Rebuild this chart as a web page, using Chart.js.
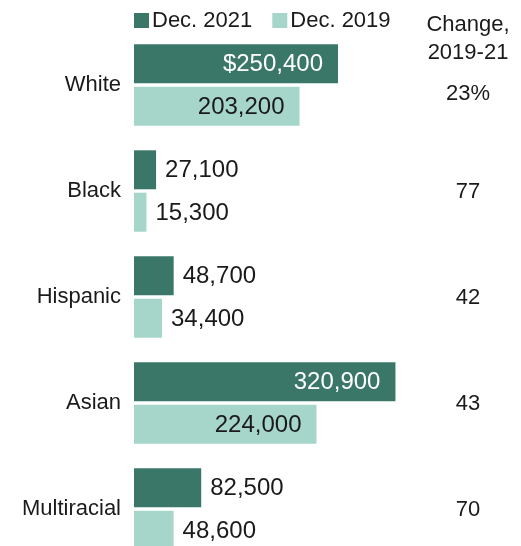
<!DOCTYPE html>
<html>
<head>
<meta charset="utf-8">
<script src="https://cdn.jsdelivr.net/npm/chart.js@4"></script>
<style>
  html, body { margin: 0; padding: 0; background: #fff; }
  /* the plot runs past the bottom edge, the last bar is cut */
  #frame { width: 521px; height: 546px; overflow: hidden; position: relative; }
  #chart { display: block; position: absolute; left: 0; top: 0; }
</style>
</head>
<body>
<div id="frame"><canvas id="chart" width="521" height="566"></canvas></div>
<script>
/* Median wealth by race, two survey dates. */
const groups = ["White", "Black", "Hispanic", "Asian", "Multiracial"]
const dec2021 = [250400, 27100, 48700, 320900, 82500]
const dec2019 = [203200, 15300, 34400, 224000, 48600]
const changePct = ["23%", "77", "42", "43", "70"]
const seriesNames = ["Dec. 2021", "Dec. 2019"]
const changeHeader = ["Change,", "2019-21"]

const darkGreen = "#3a7768"
const lightGreen = "#a6d5ca"
const textColor = "#1a1a1a"
const fontFamily = "'Liberation Sans', Arial, sans-serif"

/* Format a bar value, the very first one gets a dollar sign. */
const formatValue = (value, datasetIndex, index) => {
  const s = value.toLocaleString("en-US")
  return datasetIndex === 0 && index === 0 ? "$" + s : s
}

/* Draws legend, value labels and the change column. */
const extrasPlugin = {
  id: "extras",
  afterDatasetsDraw(chart) {
    const ctx = chart.ctx
    const area = chart.chartArea
    const yScale = chart.scales.y

    ctx.save()

    /* Legend at the top left of the plot. */
    ctx.font = "22px " + fontFamily
    ctx.textBaseline = "middle"
    ctx.textAlign = "left"
    let lx = area.left
    chart.data.datasets.forEach(ds => {
      ctx.fillStyle = ds.backgroundColor
      ctx.fillRect(lx, 13, 15, 15)
      ctx.fillStyle = textColor
      ctx.fillText(ds.label, lx + 18, 21)
      lx += 18 + ctx.measureText(ds.label).width + 20
    })

    /* Value labels, inside long bars and after short ones. */
    ctx.font = "24px " + fontFamily
    chart.data.datasets.forEach((ds, di) => {
      const meta = chart.getDatasetMeta(di)
      meta.data.forEach((bar, i) => {
        const text = formatValue(ds.data[i], di, i)
        const barWidth = bar.x - bar.base
        if (barWidth > 120) {
          ctx.textAlign = "right"
          ctx.fillStyle = di === 0 ? "#ffffff" : textColor
          ctx.fillText(text, bar.x - 15, bar.y + 1)
        } else {
          ctx.textAlign = "left"
          ctx.fillStyle = textColor
          ctx.fillText(text, bar.x + 9, bar.y + 1)
        }
      })
    })

    /* Change column on the right. */
    const cx = area.right + (chart.width - area.right) / 2 + 2
    ctx.font = "22px " + fontFamily
    ctx.textAlign = "center"
    ctx.fillStyle = textColor
    ctx.fillText(changeHeader[0], cx, 25)
    ctx.fillText(changeHeader[1], cx, 53)
    const headerBottom = 60
    groups.forEach((g, i) => {
      let y = yScale.getPixelForTick(i)
      /* keep the first value clear of the header */
      if (y - 12 < headerBottom + 20) y = headerBottom + 33
      ctx.fillText(changePct[i], cx, y + 1)
    })

    ctx.restore()
  }
}

const ctx = document.getElementById("chart").getContext("2d")
const chart = new Chart(ctx, {
  type: "bar",
  data: {
    labels: groups,
    datasets: [{
      label: seriesNames[0],
      data: dec2021,
      backgroundColor: darkGreen,
      borderWidth: 0,
      categoryPercentage: 0.8,
      barPercentage: 0.92
    }, {
      label: seriesNames[1],
      data: dec2019,
      backgroundColor: lightGreen,
      borderWidth: 0,
      categoryPercentage: 0.8,
      barPercentage: 0.92
    }]
  },
  options: {
    indexAxis: "y",
    responsive: false,
    animation: false,
    layout: {
      padding: { top: 32, bottom: 4, left: 0, right: 110 }
    },
    scales: {
      x: {
        min: 0,
        max: 340000,
        display: false
      },
      y: {
        grid: { display: false, drawTicks: false },
        border: { display: false },
        ticks: {
          color: textColor,
          padding: 13,
          font: { family: fontFamily, size: 22 }
        },
        afterFit(scale) {
          scale.width = 134
          /* labels sit at category centres, no extra room needed */
          scale.paddingTop = 0
          scale.paddingBottom = 0
        }
      }
    },
    plugins: {
      legend: { display: false },
      tooltip: { enabled: false }
    }
  },
  plugins: [extrasPlugin]
})
</script>
</body>
</html>
